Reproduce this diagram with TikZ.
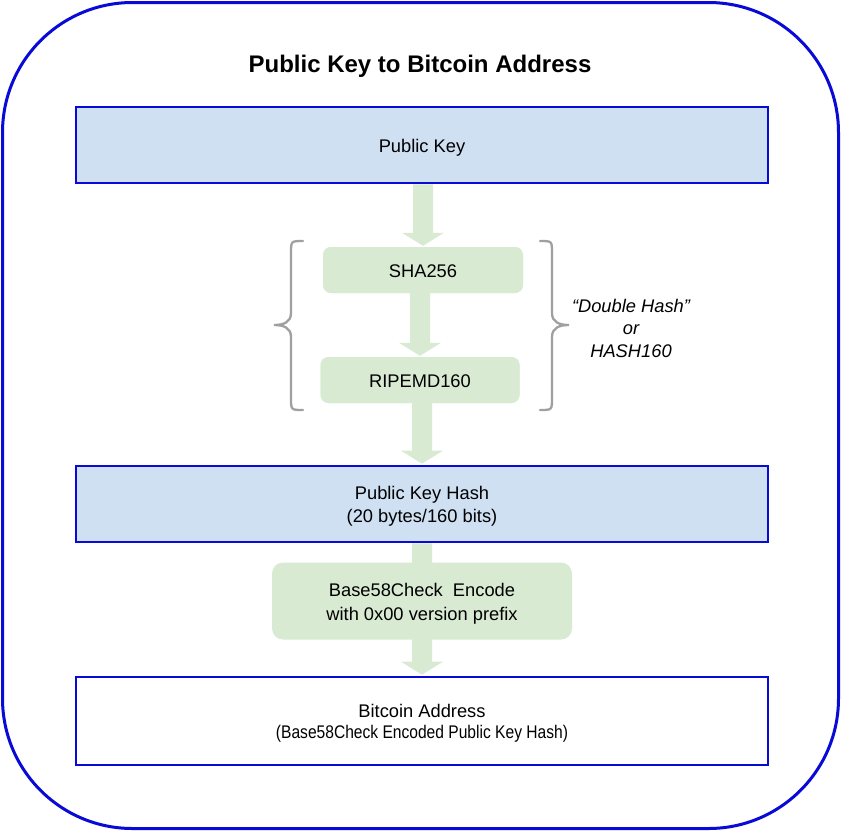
\documentclass[tikz,border=0pt]{standalone}
\usepackage{fontspec}
\usepackage{graphicx}
\setmainfont{Liberation Sans}
\usetikzlibrary{calc}
\definecolor{frameblue}{RGB}{10,10,215}
\definecolor{boxblue}{RGB}{208,224,243}
\definecolor{stepgreen}{RGB}{217,234,211}
\definecolor{bracegray}{RGB}{160,160,160}
\tikzset{
  bigbox/.style={draw=frameblue, line width=2.6pt, minimum width=692pt, minimum height=76pt, inner sep=0pt},
  stepbox/.style={fill=stepgreen, rounded corners=8pt, inner sep=0pt},
  boxtext/.style={inner sep=0pt, align=center, font=\fontsize{18.3}{23}\selectfont},
  arrowfill/.style={fill=stepgreen},
  bracestyle/.style={draw=bracegray, line width=2.3pt, line cap=round}
}
\newcommand{\fatarrow}[2]{%
  \fill[arrowfill] ($(#1.south -| #2.north)+(-10,0)$) -- ($(#2.north)+(-10,-14)$) -- ($(#2.north)+(-21,-14)$) -- ($(#2.north)+(0,-1)$) -- ($(#2.north)+(21,-14)$) -- ($(#2.north)+(10,-14)$) -- ($(#1.south -| #2.north)+(10,0)$) -- cycle;}
\begin{document}
\begin{tikzpicture}[x=1pt,y=-1pt]
\useasboundingbox (0,0) rectangle (841,831);
\draw[frameblue, line width=3pt, rounded corners=130pt] (2.5,2.5) rectangle (838.5,828.5);
\node[font=\fontsize{24}{28}\selectfont\bfseries] (title) at (420,66) {Public Key to Bitcoin Address};
% boxes
\node[bigbox, fill=boxblue] (pk) at (422,145) {};
\node[stepbox, minimum width=200pt, minimum height=46pt] (sha) at (423,270) {};
\node[stepbox, minimum width=199pt, minimum height=46pt] (rip) at (420,380) {};
\node[bigbox, fill=boxblue] (pkh) at (422,504) {};
\node[bigbox, fill=white, minimum height=88pt] (ba) at (422,721) {};
% arrows
\fatarrow{pk}{sha}
\fatarrow{sha}{rip}
\fatarrow{rip}{pkh}
\fatarrow{pkh}{ba}
% boxes drawn over the arrows
\node[stepbox, minimum width=200pt, minimum height=46pt] (shaf) at (sha) {};
\node[stepbox, minimum width=199pt, minimum height=46pt] (ripf) at (rip) {};
\node[stepbox, minimum width=300pt, minimum height=77pt, rounded corners=11pt] (b58) at (422,601) {};
% texts
\node[boxtext] (pkt) at ($(pk)+(0,2.5)$) {Public Key};
\node[boxtext] (shat) at ($(sha)+(0,1.5)$) {SHA256};
\node[boxtext] (ript) at ($(rip)+(0,1.5)$) {RIPEMD160};
\node[boxtext] (pkht) at ($(pkh)+(0,2.5)$) {Public Key Hash\\(20 bytes/160 bits)};
\node[boxtext, font=\fontsize{18.3}{24}\selectfont] (b58t) at ($(b58)+(0,2.5)$) {Base58Check\ \ Encode\\with 0x00 version prefix};
\node[boxtext, font=\fontsize{18.3}{21.5}\selectfont] (bat) at ($(ba)+(0,2.5)$) {Bitcoin Address\\\scalebox{0.852}[1]{(Base58Check Encoded Public Key Hash)}};
% braces
\draw[bracestyle] (303,241) .. controls (291,241) .. (291,253) -- (291,313) .. controls (291,322) and (284,325) .. (274,325) .. controls (284,325) and (291,328) .. (291,337) -- (291,398) .. controls (291,410) .. (303,410);
\draw[bracestyle] (540,241) .. controls (552,241) .. (552,253) -- (552,313) .. controls (552,322) and (559,325) .. (569,325) .. controls (559,325) and (552,328) .. (552,337) -- (552,398) .. controls (552,410) .. (540,410);
\node[font=\fontsize{18.3}{22.5}\selectfont\itshape, align=center] (dh) at (631,328) {“Double Hash”\\or\\HASH160};
\end{tikzpicture}
\end{document}
